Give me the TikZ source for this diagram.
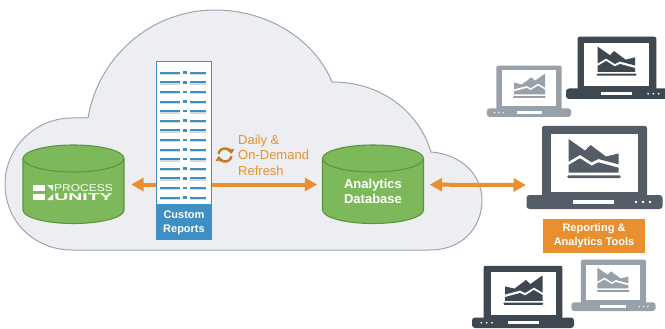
\documentclass[tikz,border=0pt]{standalone}
\usepackage{fontspec}
\setmainfont{Liberation Sans}
\usetikzlibrary{arrows.meta}
\definecolor{cloudfill}{HTML}{EDEEF1}
\definecolor{cloudline}{HTML}{9AA5B1}
\definecolor{dbgreen}{HTML}{7DB95B}
\definecolor{dbline}{HTML}{5E9440}
\definecolor{flow}{HTML}{E8902F}
\definecolor{flowdark}{HTML}{C97A28}
\definecolor{tblue}{HTML}{3E8FC4}
\definecolor{lapdark}{HTML}{3F4750}
\definecolor{lapmid}{HTML}{545C65}
\definecolor{lapgrey}{HTML}{98A1A9}
\tikzstyle{database} = [rectangle, minimum width=101pt, minimum height=79pt, inner sep=0pt]
\tikzstyle{dbtext} = [text=white, align=center, inner sep=0pt, font=\fontsize{13}{15.5}\selectfont\bfseries]
\tikzstyle{reportbox} = [rectangle, draw=tblue, line width=1pt, fill=white, minimum width=55pt, minimum height=142pt, inner sep=0pt]
\tikzstyle{bluelabel} = [rectangle, fill=tblue, text=white, minimum width=56pt, minimum height=35pt, inner sep=0pt, align=center, font=\fontsize{11}{14}\selectfont\bfseries]
\tikzstyle{orangelabel} = [rectangle, fill=flow, text=white, minimum width=102pt, minimum height=34pt, inner sep=0pt, align=center, font=\fontsize{11}{14}\selectfont\bfseries]
\tikzstyle{refreshtext} = [text=flow, align=left, inner sep=0pt, font=\fontsize{13}{15.6}\selectfont]
\tikzstyle{line} = [draw=flow, line width=4pt, -{Triangle[length=12.5pt,width=13pt]}]
\tikzstyle{bothline} = [draw=flow, line width=4pt, {Triangle[length=12.5pt,width=13pt]}-{Triangle[length=12.5pt,width=13pt]}]
\tikzstyle{spinarrow} = [flowdark, line width=2.4pt, -{Triangle[length=4.5pt,width=7.5pt]}]
\tikzset{pics/dbbody/.style={code={
    \draw[dbline, fill=dbgreen, line width=1.1pt] (-50.5,-26) -- (-50.5,25.5)
      arc[start angle=180, end angle=360, x radius=50.5pt, y radius=13.5pt]
      -- (50.5,-26)
      arc[start angle=0, end angle=180, x radius=50.5pt, y radius=13.5pt] -- cycle;
    \draw[dbline, line width=1.1pt] (-50.5,-26)
      arc[start angle=180, end angle=360, x radius=50.5pt, y radius=13.5pt];
}}}
\tikzset{pics/laptop/.style={code={
    \fill[#1, rounded corners=3pt] (-68,-14) rectangle (68,0);
    \fill[#1, rounded corners=2pt] (-52.5,-83) rectangle (52.5,-10);
    \fill[white] (-44,-75) rectangle (43,-17);
    \fill[white] (-21.5,-9) rectangle (19.5,-5);
    \foreach \dotx in {41.5,48.5,55.5}
      \fill[white] (\dotx,-7) circle (1.3);
    \fill[#1] (-26,-70) -- (-9.5,-58.5) -- (-4,-64) -- (11.5,-52.5) -- (24,-55.5) -- (24,-44.7) -- (3.8,-50) -- (-2.8,-46.7) -- (-14.5,-54) -- (-26,-47.3) -- cycle;
    \fill[#1] (-26,-44) -- (-14.5,-50.7) -- (-2.8,-43.3) -- (3.8,-46.7) -- (24,-41.3) -- (24,-36.3) -- (-26,-36.3) -- cycle;
    \fill[#1, rounded corners=1pt] (-27.2,-33.7) rectangle (26.2,-31);
}}}
\begin{document}
\begin{tikzpicture}[x=1pt, y=-1pt, node distance=100pt]
    \useasboundingbox (0,0) rectangle (665,329);
    % cloud
    \draw[cloudline, fill=cloudfill, line width=1pt] (72,250) -- (430,250)
      .. controls (462,250) and (482,228) .. (482,200)
      .. controls (482,174) and (460,154) .. (431,152)
      .. controls (420,115) and (385,82) .. (332,82)
      .. controls (315,40) and (268,10) .. (215,10)
      .. controls (150,10) and (98,58) .. (88,118)
      -- (72,118)
      .. controls (35,118) and (5,148) .. (5,184)
      .. controls (5,222) and (35,250) .. (72,250) -- cycle;
    % nodes
    \pic at (73.5,184.5) {dbbody};
    \pic at (373,184.5) {dbbody};
    \node [database] (leftdb) at (73.5,184.5) {};
    \node [database, right of=leftdb, node distance=299.5pt] (rightdb) {};
    \node [dbtext] (rightdbtext) at (373,191.5) {Analytics\\Database};
    \node [reportbox] (reports) at (184,133) {};
    \node [bluelabel, below of=reports, node distance=89.5pt] (reportlabel) {Custom\\Reports};
    \node [refreshtext, anchor=west] (refresh) at (238,155) {Daily \&\\On-Demand\\Refresh};
    \node [orangelabel] (toolslabel) at (594,236) {Reporting \&\\Analytics Tools};
    \coordinate (toolsend) at (526,185);
    % report rows
    \foreach \row in {0,...,13} {
      \fill[gray!30] (160,73.8+9.6*\row) rectangle (180,75.2+9.6*\row);
      \fill[gray!30] (190,73.8+9.6*\row) rectangle (206,75.2+9.6*\row);
      \fill[tblue] (160,71.8+9.6*\row) rectangle (180,73.8+9.6*\row);
      \fill[tblue] (183,71.4+9.6*\row) rectangle (186.5,74+9.6*\row);
      \fill[tblue] (190,71.8+9.6*\row) rectangle (206,73.8+9.6*\row);
    }
    % process unity logo
    \fill[white] (33,185) rectangle (45,191);
    \fill[white] (47,185) -- (53,185) -- (53,191) -- (50,188) -- cycle;
    \fill[white] (33,194) rectangle (45,200);
    \fill[white] (47,200) -- (53,194) -- (53,200) -- cycle;
    \node [text=white, inner sep=0pt, xscale=1.2, transform shape, font=\fontsize{10}{10}\selectfont] (logotop) at (83.5,188.5) {PROCESS};
    \node [text=white, inner sep=0pt, xscale=1.95, transform shape, font=\fontsize{10}{10}\selectfont\bfseries] (logobottom) at (83.5,197) {UNITY};
    % refresh icon
    \draw[spinarrow] (218.5,153.9) arc[start angle=170, end angle=10, radius=6.6pt];
    \draw[spinarrow] (231.5,156.1) arc[start angle=-10, end angle=-170, radius=6.6pt];
    % connectors
    \path [line, shorten >=7pt] (reports.west |- leftdb.center) -- (leftdb);
    \path [line, shorten >=5pt] (reports.east |- leftdb.center) -- (rightdb);
    \path [bothline, shorten <=6pt] (rightdb) -- (toolsend);
    % laptops
    \pic at (529,117) [scale=.62, xscale=-1] {laptop=lapgrey};
    \pic at (617,99) [scale=.75] {laptop=lapdark};
    \pic at (594.5,209) {laptop=lapmid};
    \pic at (523,328) [scale=.75, xscale=-1] {laptop=lapdark};
    \pic at (613.5,311) [scale=.62] {laptop=lapgrey};
\end{tikzpicture}
\end{document}
